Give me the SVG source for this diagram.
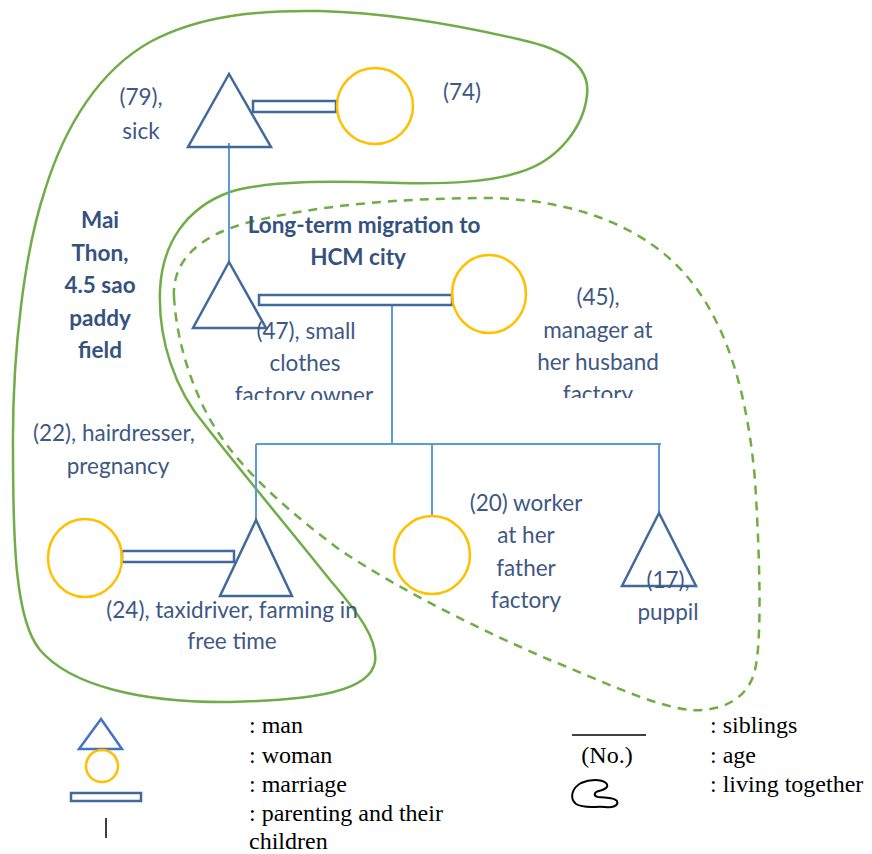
<svg xmlns="http://www.w3.org/2000/svg" width="872" height="854" viewBox="0 0 872 854">
<style>
.man{fill:none;stroke:#41699A;stroke-width:2.5;stroke-linejoin:miter}
.woman{fill:none;stroke:#FFC000;stroke-width:2.5}
.marr{fill:#fff;stroke:#41699A;stroke-width:2.5}
.line{fill:none;stroke:#5B9BD5;stroke-width:2}
.live{fill:none;stroke:#70AD47;stroke-width:2.5}
.dash{fill:none;stroke:#70AD47;stroke-width:2.5;stroke-dasharray:9 7}
.lbl{font-family:Lato,"Open Sans",sans-serif;font-size:22.5px;fill:#3E5883;text-anchor:middle}
.bold{font-weight:bold;fill:#35527F}
.leg{font-family:"Liberation Serif","Times New Roman",serif;font-size:24px;fill:#000}
</style>
<defs>
<clipPath id="clipL"><rect x="200" y="300" width="220" height="100"/></clipPath>
<clipPath id="clipR"><rect x="500" y="270" width="200" height="128"/></clipPath>
</defs>
<rect width="872" height="854" fill="#fff"/>

<g id="boundaries">
<path class="live" d="M 13,450 C 12,350 25,250 45,190 C 65,125 100,70 150,42 C 200,15 260,10 320,11 C 390,13 460,25 530,42 C 570,52 590,70 587,95 C 584,125 560,160 520,172 C 490,182 450,184 400,183 C 330,181 270,180 230,192 C 185,208 162,245 160,290 C 158,340 175,390 205,425 C 240,470 290,530 330,580 C 360,615 378,640 375,662 C 370,690 320,700 230,702 C 140,703 70,685 40,650 C 15,620 13,540 13,450 Z"/>
<path class="dash" d="M 174,297 C 172,260 200,235 250,222 C 320,205 400,198 490,198 C 580,200 650,230 690,280 C 730,330 748,400 755,480 C 760,560 762,640 755,670 C 748,700 720,712 690,710 C 650,705 600,680 550,660 C 480,630 400,590 340,550 C 280,505 230,460 205,410 C 185,370 176,330 174,297 Z"/>
</g>

<g id="connectors">
<line class="line" x1="229" y1="143" x2="229" y2="262"/>
<line class="line" x1="392" y1="305" x2="392" y2="444"/>
<line class="line" x1="256" y1="444" x2="661" y2="444"/>
<line class="line" x1="256" y1="444" x2="256" y2="520"/>
<line class="line" x1="432" y1="444" x2="432" y2="516"/>
<line class="line" x1="659" y1="444" x2="659" y2="513"/>
<rect class="marr" x="253" y="101" width="83" height="11"/>
<rect class="marr" x="259" y="295" width="193" height="10"/>
<rect class="marr" x="122" y="551" width="112" height="11"/>
</g>

<g id="grandfather">
<polygon class="man" points="229,74 188,147 271,147"/>
<text class="lbl" x="141" y="105">(79),</text>
<text class="lbl" x="141" y="139">sick</text>
</g>
<g id="grandmother">
<ellipse class="woman" cx="375" cy="106" rx="38" ry="38"/>
<text class="lbl" x="462" y="100">(74)</text>
</g>
<g id="place">
<text class="lbl bold" x="100" y="228">Mai</text>
<text class="lbl bold" x="100" y="261">Thon,</text>
<text class="lbl bold" x="100" y="293">4.5 sao</text>
<text class="lbl bold" x="100" y="326">paddy</text>
<text class="lbl bold" x="100" y="358">field</text>
</g>
<g id="migration">
<text class="lbl bold" x="364" y="233">Long-term migration to</text>
<text class="lbl bold" x="358" y="265">HCM city</text>
</g>
<g id="father">
<polygon class="man" points="229,262 193,328 266,328"/>
<g clip-path="url(#clipL)">
<text class="lbl" x="306" y="339">(47), small</text>
<text class="lbl" x="305" y="371">clothes</text>
<text class="lbl" x="304" y="403">factory owner</text>
</g>
</g>
<g id="mother">
<ellipse class="woman" cx="489" cy="294" rx="37" ry="39"/>
<g clip-path="url(#clipR)">
<text class="lbl" x="598" y="305">(45),</text>
<text class="lbl" x="598" y="338">manager at</text>
<text class="lbl" x="598" y="370">her husband</text>
<text class="lbl" x="598" y="402">factory</text>
</g>
</g>
<g id="daughter-in-law">
<ellipse class="woman" cx="85" cy="558" rx="37" ry="39"/>
<text class="lbl" x="33" y="441" style="text-anchor:start">(22), hairdresser,</text>
<text class="lbl" x="118" y="474">pregnancy</text>
</g>
<g id="son">
<polygon class="man" points="256,520 220,596 292,596"/>
<text class="lbl" x="232" y="618">(24), taxidriver, farming in</text>
<text class="lbl" x="232" y="649">free time</text>
</g>
<g id="daughter">
<ellipse class="woman" cx="432" cy="555" rx="38" ry="39"/>
<text class="lbl" x="526" y="511">(20) worker</text>
<text class="lbl" x="526" y="543">at her</text>
<text class="lbl" x="526" y="576">father</text>
<text class="lbl" x="526" y="608">factory</text>
</g>
<g id="youngest-son">
<polygon class="man" points="659,513 622,586 696,586"/>
<text class="lbl" x="668" y="588">(17),</text>
<text class="lbl" x="668" y="620">puppil</text>
</g>

<g id="legend">
<polygon points="101,719 79,749 122,749" fill="none" stroke="#4472C4" stroke-width="2.5"/>
<ellipse cx="102" cy="766" rx="16" ry="16" fill="none" stroke="#FFC000" stroke-width="2.5"/>
<rect x="71" y="793" width="70" height="8" fill="#fff" stroke="#41699A" stroke-width="2.5"/>
<line x1="106" y1="818" x2="106" y2="838" stroke="#000" stroke-width="1.5"/>
<text class="leg" x="249" y="733">: man</text>
<text class="leg" x="249" y="763">: woman</text>
<text class="leg" x="249" y="792">: marriage</text>
<text class="leg" x="249" y="821">: parenting and their</text>
<text class="leg" x="249" y="849">children</text>
<line x1="572" y1="735" x2="646" y2="735" stroke="#000" stroke-width="1.5"/>
<text class="leg" x="607" y="763" text-anchor="middle">(No.)</text>
<path d="M 576,804 C 569,798 572,788 581,783 C 590,779 601,779 606,783 C 610,787 604,790 599,791 C 594,792 593,796 598,797 C 606,798 614,797 617,801 C 619,806 612,808 605,807 C 595,806 584,809 576,804 Z" fill="none" stroke="#000" stroke-width="2"/>
<text class="leg" x="710" y="733">: siblings</text>
<text class="leg" x="710" y="763">: age</text>
<text class="leg" x="710" y="792">: living together</text>
</g>
</svg>
